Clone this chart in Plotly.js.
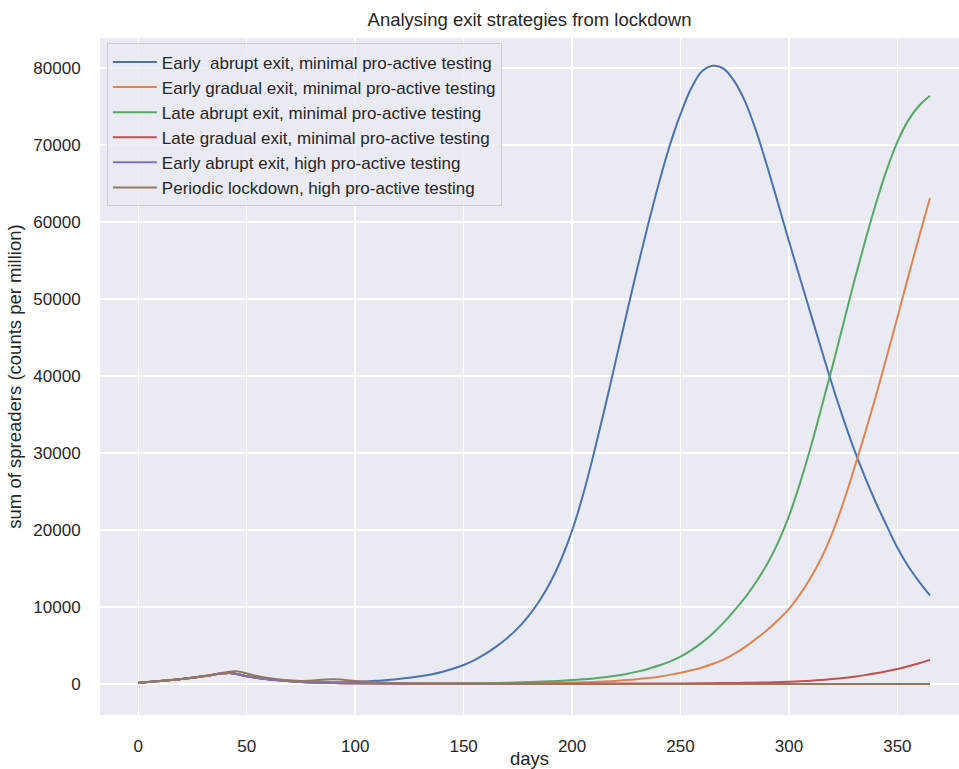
<!DOCTYPE html>
<html>
<head>
<meta charset="utf-8">
<script src="https://cdn.plot.ly/plotly-3.0.1.min.js"></script>
<style>html,body{margin:0;padding:0;background:#fff;}#chart{width:959px;height:769px;}</style>
</head>
<body>
<div id="chart"></div>
<script>
// ---- data ----
const seriesNames = [
  "Early  abrupt exit, minimal pro-active testing",
  "Early gradual exit, minimal pro-active testing",
  "Late abrupt exit, minimal pro-active testing",
  "Late gradual exit, minimal pro-active testing",
  "Early abrupt exit, high pro-active testing",
  "Periodic lockdown, high pro-active testing"
];
const seriesColors = ["#4C72B0", "#DD8452", "#55A868", "#C44E52", "#8172B3", "#937860"];

const blueDays = [0,10,20,30,42,50,60,75,90,100,105,110,115,120,125,130,135,140,145,150,155,160,165,170,175,180,185,190,195,200,205,210,215,220,225,230,235,240,245,250,255,260,265,270,275,280,285,290,295,300,305,310,315,320,325,330,335,340,345,350,355,360,365];
const blueVals = [170,380,650,1000,1430,1000,600,300,220,270,335,415,515,640,800,1000,1240,1550,1970,2470,3100,3900,4850,5950,7250,8850,10800,13200,16200,19900,24500,29900,35700,41800,47900,53900,59600,65000,69900,74000,77400,79600,80300,79900,78200,75500,71700,67200,62400,57500,52800,48100,43400,38800,34500,30500,26900,23600,20600,17700,15300,13300,11500];

const orangeDays = [0,10,20,30,42,50,60,75,90,100,120,150,175,200,205,210,215,220,225,230,235,240,245,250,255,260,265,270,275,280,285,290,295,300,305,310,315,320,325,330,335,340,345,350,355,360,365];
const orangeVals = [170,380,650,1000,1430,1000,600,260,130,90,60,60,100,180,210,260,320,400,500,620,770,950,1180,1450,1780,2150,2620,3200,3950,4850,5900,7000,8300,9750,11600,13800,16400,19600,23500,27900,32500,37300,42400,47600,52900,58100,63100];

const greenDays = [0,10,20,30,42,50,60,75,90,100,120,140,160,170,180,190,200,205,210,215,220,225,230,235,240,245,250,255,260,265,270,275,280,285,290,295,300,305,310,315,320,325,330,335,340,345,350,355,360,365];
const greenVals = [170,380,650,1000,1430,1000,600,260,130,100,70,70,100,150,240,350,500,600,720,870,1060,1300,1600,1950,2400,2900,3550,4400,5400,6600,8000,9600,11300,13300,15600,18400,21800,26000,30700,35900,41200,46700,52200,57400,62300,66700,70400,73200,75100,76400];

const redDays = [0,10,20,30,42,50,60,75,90,100,150,200,250,270,280,290,300,305,310,315,320,325,330,335,340,345,350,355,360,365];
const redVals = [170,380,650,1000,1430,1000,600,260,130,80,30,40,70,110,150,200,280,340,420,520,640,780,950,1150,1380,1650,1950,2300,2700,3130];

const purpleDays = [0,10,20,30,42,50,59,75,90,100,150,200,365];
const purpleVals = [170,380,650,1000,1430,1000,600,260,130,80,20,5,0];

const brownDays = [0,10,20,30,45,50,59,75,90,102,110,120,150,200,365];
const brownVals = [170,380,650,1000,1650,1350,800,390,610,350,250,100,30,10,0];

const xTicks = [0,50,100,150,200,250,300,350];
const yTicks = [0,10000,20000,30000,40000,50000,60000,70000,80000];

const allDays = [blueDays, orangeDays, greenDays, redDays, purpleDays, brownDays];
const allVals = [blueVals, orangeVals, greenVals, redVals, purpleVals, brownVals];

const FONT = "Liberation Sans, Arial, sans-serif";
const TXT = "#262626";
const traces = seriesNames.map((n, i) => ({
  type: "scatter", mode: "lines", name: n,
  x: allDays[i], y: allVals[i],
  line: {color: seriesColors[i], width: 2, shape: "spline", smoothing: 1}
}));

const layout = {
  width: 959, height: 769,
  paper_bgcolor: "#ffffff", plot_bgcolor: "#EAEAF2",
  margin: {l: 100, r: 0, t: 38, b: 54},
  font: {family: FONT, color: TXT, size: 17},
  title: {text: "Analysing exit strategies from lockdown", font: {family: FONT, size: 18.5, color: TXT}, x: 0.5, xref: "paper", y: 0.975, yanchor: "middle"},
  xaxis: {
    range: [-17.65, 378.4], tickvals: xTicks, ticktext: xTicks.map(String),
    showgrid: true, gridcolor: "#ffffff", gridwidth: 1.5, zeroline: false, showline: false,
    ticks: "outside", ticklen: 16, tickcolor: "rgba(0,0,0,0)", tickfont: {size: 17, family: FONT, color: TXT},
    title: {text: "days", font: {size: 18.5, family: FONT, color: TXT}, standoff: 0},
    automargin: false
  },
  yaxis: {
    range: [-4030, 83900], tickvals: yTicks, ticktext: yTicks.map(String),
    showgrid: true, gridcolor: "#ffffff", gridwidth: 1.5, zeroline: false, showline: false,
    ticks: "outside", ticklen: 15, tickcolor: "rgba(0,0,0,0)", tickfont: {size: 17, family: FONT, color: TXT},
    title: {text: "sum of spreaders (counts per million)", font: {size: 18.5, family: FONT, color: TXT}, standoff: 6},
    automargin: false
  },
  legend: {
    x: 0.008, y: 0.992, xanchor: "left", yanchor: "top",
    bgcolor: "rgba(234,234,242,0.8)", bordercolor: "#cccccc", borderwidth: 1,
    itemwidth: 44,
    font: {size: 17, family: FONT, color: TXT}
  },
  showlegend: true
};

Plotly.newPlot("chart", traces, layout, {staticPlot: true, displayModeBar: false});
</script>
</body>
</html>
